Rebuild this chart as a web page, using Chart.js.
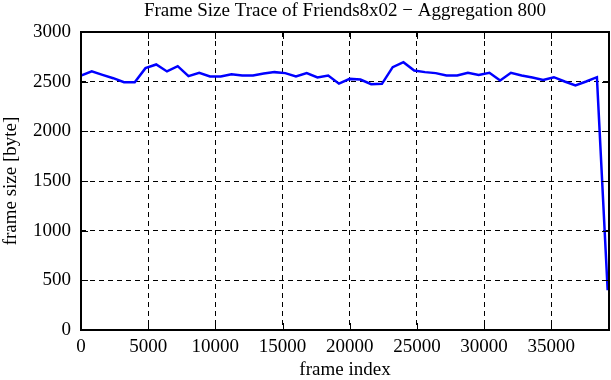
<!DOCTYPE html>
<html>
<head>
<meta charset="utf-8">
<script src="https://cdn.jsdelivr.net/npm/chart.js@4/dist/chart.umd.min.js"></script>
<style>
html,body{margin:0;padding:0;background:#fff;}
#wrap{width:611px;height:380px;}
</style>
</head>
<body>
<div id="wrap"><canvas id="c" width="611" height="380"></canvas></div>
<script>
const frameIndex = [0,800,1600,2400,3200,4000,4800,5600,6400,7200,8000,8800,9600,10400,11200,12000,12800,13600,14400,15200,16000,16800,17600,18400,19200,20000,20800,21600,22400,23200,24000,24800,25600,26400,27200,28000,28800,29600,30400,31200,32000,32800,33600,34400,35200,36000,36800,37600,38400,39200];
const frameSize = [2560,2603,2568,2535,2495,2495,2636,2673,2603,2656,2555,2589,2552,2552,2575,2562,2562,2582,2596,2586,2552,2586,2542,2562,2480,2528,2522,2475,2478,2646,2696,2613,2596,2586,2562,2562,2589,2568,2589,2512,2589,2562,2542,2518,2545,2502,2462,2502,2545,400];
const xTicks = [0,5000,10000,15000,20000,25000,30000,35000];
const yTicks = [0,500,1000,1500,2000,2500,3000];
const titleText = 'Frame Size Trace of Friends8x02 \u2212 Aggregation 800';
const xLabel = 'frame index';
const yLabel = 'frame size [byte]';

const FONT = "'Liberation Serif', 'DejaVu Serif', serif";

const frameTicks = {
  id: 'frameTicks',
  afterDatasetsDraw(chart) {
    const ctx = chart.ctx, a = chart.chartArea;
    const xs = chart.scales.x, ys = chart.scales.y;
    const L = 7;
    ctx.save();
    ctx.strokeStyle = '#000';
    ctx.lineWidth = 1;
    ctx.beginPath();
    xTicks.forEach(v => {
      const p = Math.round(xs.getPixelForValue(v)) + 0.5;
      ctx.moveTo(p, a.bottom); ctx.lineTo(p, a.bottom - L);
      ctx.moveTo(p, a.top); ctx.lineTo(p, a.top + L);
    });
    yTicks.forEach(v => {
      const p = Math.round(ys.getPixelForValue(v)) + 0.5;
      ctx.moveTo(a.left, p); ctx.lineTo(a.left + L, p);
      ctx.moveTo(a.right, p); ctx.lineTo(a.right - L, p);
    });
    ctx.stroke();
    ctx.lineWidth = 2;
    ctx.strokeRect(a.left, a.top, a.right - a.left, a.bottom - a.top);
    ctx.restore();
  }
};

new Chart(document.getElementById('c'), {
  type: 'line',
  data: {
    datasets: [{
      data: frameIndex.map((x, i) => ({x: x, y: frameSize[i]})),
      borderColor: '#0000ff',
      borderWidth: 2.5,
      pointRadius: 0,
      tension: 0,
      fill: false
    }]
  },
  options: {
    responsive: false,
    animation: false,
    devicePixelRatio: 1,
    layout: {padding: {top: 0, right: 2, bottom: 0, left: 0}},
    plugins: {
      legend: {display: false},
      tooltip: {enabled: false},
      title: {display: false}
    },
    scales: {
      x: {
        type: 'linear',
        position: 'bottom',
        min: 0, max: 39300,
        afterBuildTicks: s => { s.ticks = xTicks.map(v => ({value: v})); },
        afterFit: s => { s.height = 50; },
        grid: {color: '#000', lineWidth: 1, drawTicks: false},
        border: {display: false, dash: [5,4]},
        ticks: {color: '#000', font: {family: FONT, size: 19}, padding: 6, maxRotation: 0, callback: v => String(v)},
        title: {display: true, text: xLabel, color: '#000', font: {family: FONT, size: 19, lineHeight: 1}, padding: {top: 0, bottom: 0}}
      },
      xTop: {
        type: 'linear',
        position: 'top',
        min: 0, max: 39300,
        afterFit: s => { s.height = 32; },
        grid: {display: false, drawTicks: false},
        border: {display: false},
        ticks: {display: false},
        title: {display: true, text: titleText, color: '#000', font: {family: FONT, size: 19}, padding: {top: 0, bottom: 0}}
      },
      y: {
        type: 'linear',
        min: 0, max: 3000,
        afterBuildTicks: s => { s.ticks = yTicks.map(v => ({value: v})); },
        afterFit: s => { s.width = 81; },
        grid: {color: '#000', lineWidth: 1, drawTicks: false},
        border: {display: false, dash: [5,4]},
        ticks: {color: '#000', font: {family: FONT, size: 19}, padding: 10, callback: v => String(v)},
        title: {display: true, text: yLabel, color: '#000', font: {family: FONT, size: 19}, padding: {top: 0, bottom: 0}}
      }
    }
  },
  plugins: [frameTicks]
});
</script>
</body>
</html>
